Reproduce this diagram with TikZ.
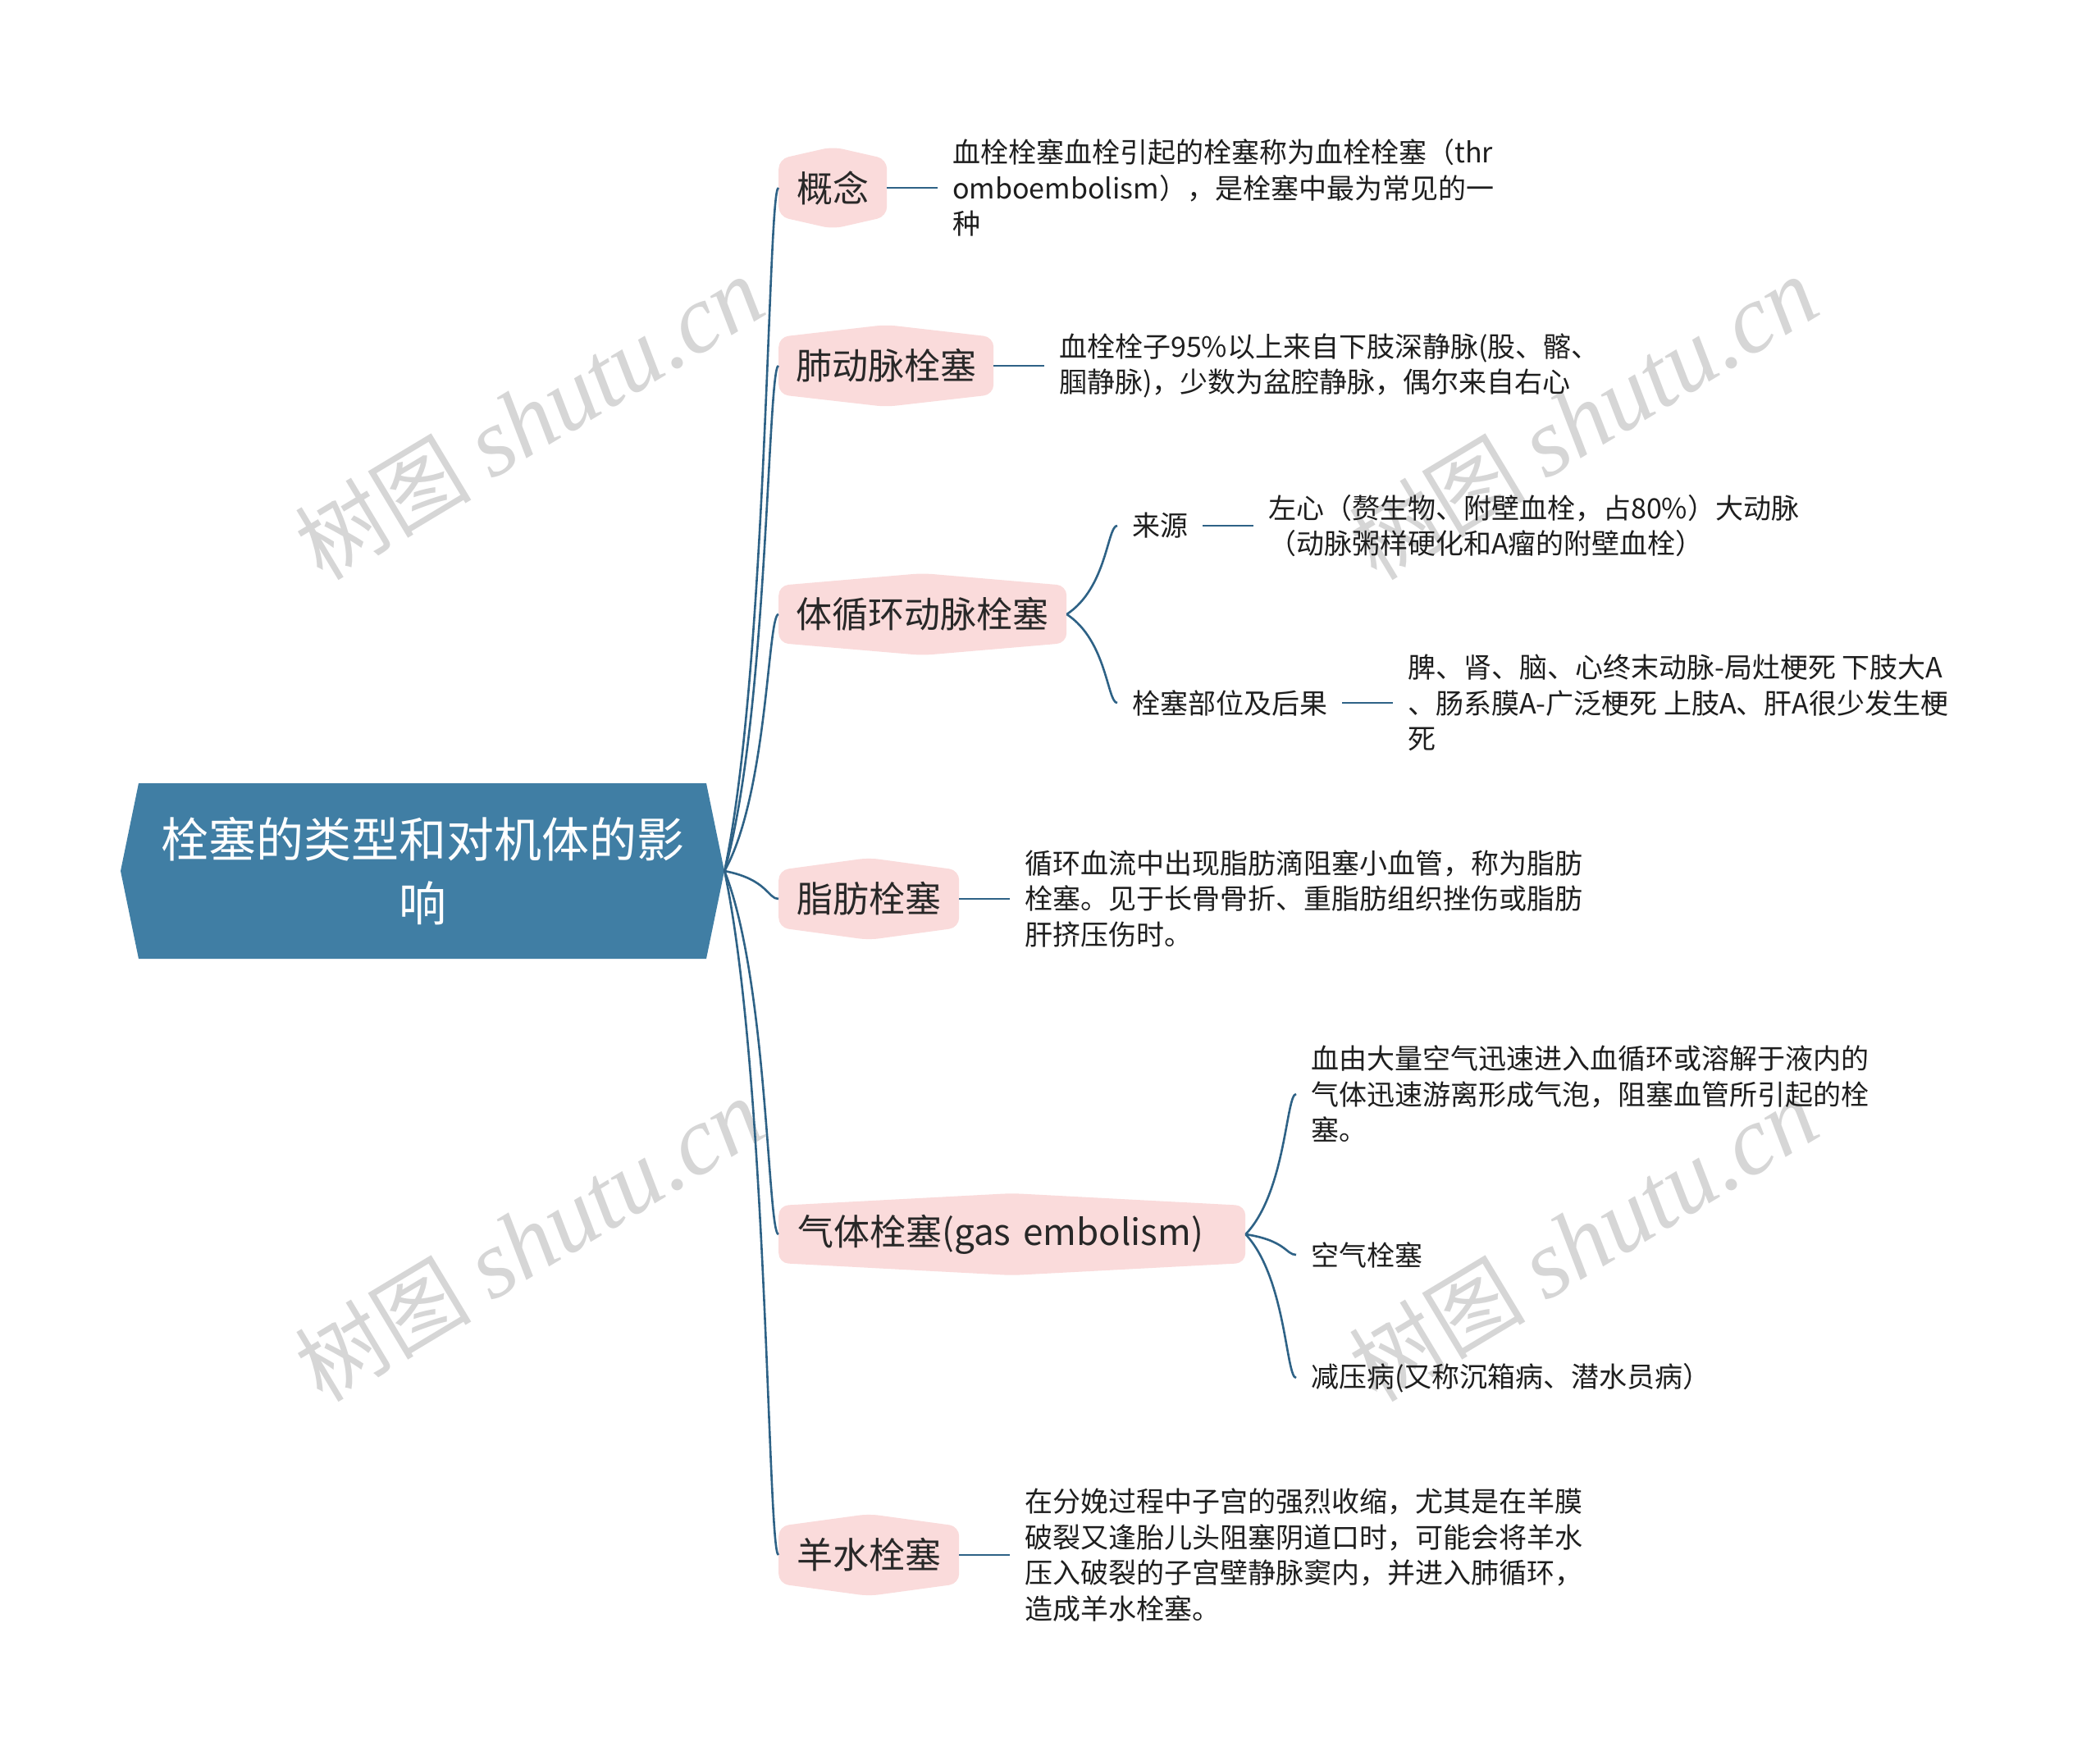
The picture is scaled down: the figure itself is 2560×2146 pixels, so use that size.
\documentclass[tikz,border=0pt]{standalone}
\usepackage{fontspec}
\setmainfont{Noto Sans CJK SC}
\newfontfamily\wmcjk{Noto Sans CJK SC}
\newfontfamily\wmserif{Liberation Serif}
\usetikzlibrary{calc}
\definecolor{rootfill}{RGB}{64,126,164}
\definecolor{lonefill}{RGB}{250,219,219}
\definecolor{lonetext}{RGB}{40,40,40}
\definecolor{leaftext}{RGB}{30,30,30}
\definecolor{linecol}{RGB}{46,98,134}
\definecolor{wmcol}{RGB}{214,214,214}
\begin{document}
\begin{tikzpicture}[x=1pt,y=-1pt,
  rootnode/.style={rectangle, minimum width=736pt, minimum height=214pt, inner sep=0pt,
    align=center, text=white, font=\fontsize{58pt}{78pt}\selectfont,
    path picture={\fill[rootfill]
      (path picture bounding box.west) -- ([xshift=22pt]path picture bounding box.north west)
      -- ([xshift=-22pt]path picture bounding box.north east) -- (path picture bounding box.east)
      -- ([xshift=-22pt]path picture bounding box.south east) -- ([xshift=22pt]path picture bounding box.south west) -- cycle;}},
  lone/.style={rectangle, anchor=west, minimum height=100pt, inner xsep=6pt, inner ysep=0pt,
    text=lonetext, font=\fontsize{44pt}{52pt}\selectfont,
    path picture={\fill[lonefill, rounded corners=12pt]
      ([yshift=-15pt]path picture bounding box.north west) -- (path picture bounding box.north)
      -- ([yshift=-15pt]path picture bounding box.north east) -- ([yshift=15pt]path picture bounding box.south east)
      -- (path picture bounding box.south) -- ([yshift=15pt]path picture bounding box.south west) -- cycle;}},
  leaf/.style={anchor=west, align=left, inner xsep=18pt, inner ysep=2pt, text=leaftext,
    font=\fontsize{34pt}{43.5pt}\selectfont},
  ltwo/.style={leaf},
  wm/.style={text=wmcol, rotate=31, inner sep=0pt},
  conn/.style={draw=linecol, line width=2.6pt},
  bcurve/.style={to path={let \p1=(\tikztostart), \p2=(\tikztotarget) in
    .. controls ({\x1+0.8*(\x2-\x1)},{\y1+0.3*(\y2-\y1)}) and ({\x2-0.2*(\x2-\x1)},{\y2}) .. (\tikztotarget)}}
]
\useasboundingbox (0,0) rectangle (2560,2146);
\fill[white] (0,0) rectangle (2560,2146);

% watermarks
\node[wm] (wm1) at (645,510) {\fontsize{108pt}{112pt}\wmcjk 树图 \wmserif\itshape\fontsize{118pt}{122pt}\selectfont shutu.cn};
\node[wm] (wm2) at (1930,510) {\fontsize{108pt}{112pt}\wmcjk 树图 \wmserif\itshape\fontsize{118pt}{122pt}\selectfont shutu.cn};
\node[wm] (wm3) at (645,1512) {\fontsize{108pt}{112pt}\wmcjk 树图 \wmserif\itshape\fontsize{118pt}{122pt}\selectfont shutu.cn};
\node[wm] (wm4) at (1930,1512) {\fontsize{108pt}{112pt}\wmcjk 树图 \wmserif\itshape\fontsize{118pt}{122pt}\selectfont shutu.cn};

% root
\node[rootnode] (root) at (515,1062) {栓塞的类型和对机体的影\\响};

% level 1
\node[lone, minimum width=132pt] (c1) at (949,229) {概念};
\node[lone, minimum width=262pt] (c2) at (949,446) {肺动脉栓塞};
\node[lone, minimum width=351pt] (c3) at (949,749) {体循环动脉栓塞};
\node[lone, minimum width=220pt] (c4) at (949,1096) {脂肪栓塞};
\node[lone, minimum width=569pt, inner xsep=23pt, text width=523pt, align=left] (c5) at (949,1505) {气体栓塞(gas embolism)};
\node[lone, minimum width=220pt] (c6) at (949,1896) {羊水栓塞};

% level 2 / leaves
\node[leaf] (d1) at (1143,229) {血栓栓塞血栓引起的栓塞称为血栓栓塞（thr\\omboembolism），是栓塞中最为常见的一\\种};
\node[leaf] (d2) at (1273,446) {血栓栓子95\%以上来自下肢深静脉(股、髂、\\腘静脉)，少数为盆腔静脉，偶尔来自右心};
\node[ltwo] (s1) at (1362,641) {来源};
\node[ltwo] (s2) at (1362,857) {栓塞部位及后果};
\node[leaf] (d3a) at (1528,641) {左心（赘生物、附壁血栓，占80\%）大动脉\\（动脉粥样硬化和A瘤的附壁血栓）};
\node[leaf] (d3b) at (1698,857) {脾、肾、脑、心终末动脉-局灶梗死 下肢大A\\、肠系膜A-广泛梗死 上肢A、肝A很少发生梗\\死};
\node[leaf] (d4) at (1231,1096) {循环血流中出现脂肪滴阻塞小血管，称为脂肪\\栓塞。见于长骨骨折、重脂肪组织挫伤或脂肪\\肝挤压伤时。};
\node[leaf] (d5a) at (1580,1334) {血由大量空气迅速进入血循环或溶解于液内的\\气体迅速游离形成气泡，阻塞血管所引起的栓\\塞。};
\node[leaf] (d5b) at (1580,1530) {空气栓塞};
\node[leaf] (d5c) at (1580,1680) {减压病(又称沉箱病、潜水员病）};
\node[leaf] (d6) at (1231,1896) {在分娩过程中子宫的强烈收缩，尤其是在羊膜\\破裂又逢胎儿头阻塞阴道口时，可能会将羊水\\压入破裂的子宫壁静脉窦内，并进入肺循环，\\造成羊水栓塞。};

% connectors
\foreach \c in {c1,c2,c3,c4,c5,c6}{
  \draw[conn] (root.east) to[bcurve] (\c.west);
}
\draw[conn] (c1.east) -- (d1.west);
\draw[conn] (c2.east) -- (d2.west);
\draw[conn] (c3.east) to[bcurve] (s1.west);
\draw[conn] (c3.east) to[bcurve] (s2.west);
\draw[conn] (s1.east) -- (d3a.west);
\draw[conn] (s2.east) -- (d3b.west);
\draw[conn] (c4.east) -- (d4.west);
\draw[conn] (c5.east) to[bcurve] (d5a.west);
\draw[conn] (c5.east) to[bcurve] (d5b.west);
\draw[conn] (c5.east) to[bcurve] (d5c.west);
\draw[conn] (c6.east) -- (d6.west);
\end{tikzpicture}
\end{document}
